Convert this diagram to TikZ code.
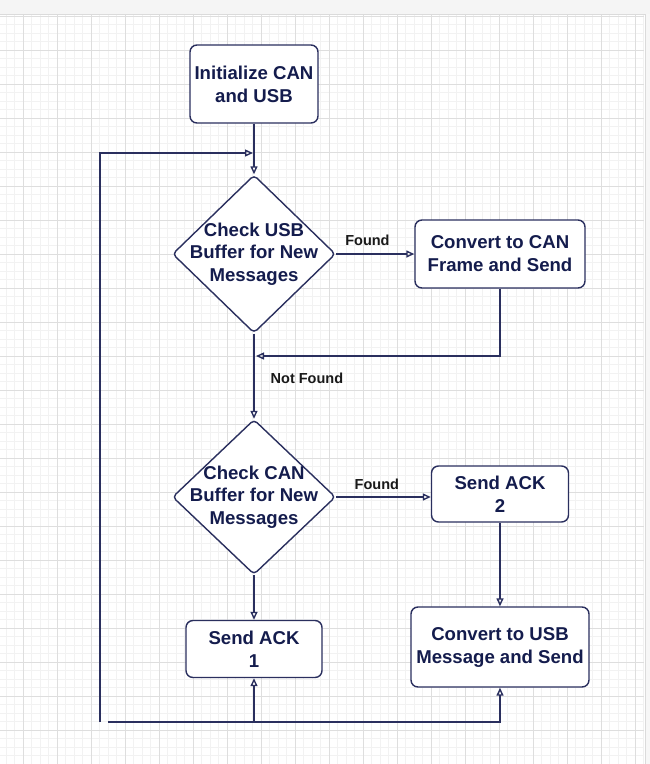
\documentclass[tikz,border=0pt]{standalone}
\usepackage{fontspec}
\setmainfont{Liberation Sans}
\usetikzlibrary{shapes.geometric,arrows.meta,positioning}
\definecolor{ink}{HTML}{2A2F5E}
\definecolor{txt}{HTML}{141C4D}
\colorlet{gridMaj}{black!13}
\colorlet{gridMin}{black!5}
\tikzstyle{box} = [draw=ink, line width=1.4pt, fill=white,
    rectangle, rounded corners=7pt, inner sep=0pt, text=txt,
    font=\fontsize{18.6}{23}\selectfont\bfseries, align=center]
\tikzstyle{dec} = [draw=ink, line width=1.4pt, fill=white,
    diamond, rounded corners=4pt, inner sep=0pt]
\tikzstyle{dtxt} = [text=txt, inner sep=0pt,
    font=\fontsize{18.6}{22.5}\selectfont\bfseries, align=center]
\tikzstyle{lbl} = [text=black!90, inner sep=0pt,
    font=\fontsize{14.5}{17}\selectfont\bfseries]
\tikzstyle{wire} = [draw=ink, line width=1.4pt]
\tikzstyle{flow} = [wire, -{Triangle[open,length=8pt,width=7pt]}]

\begin{document}
\begin{tikzpicture}[x=1pt,y=-1pt]

\useasboundingbox (0,0) rectangle (650,764);
\fill[white] (0,0) rectangle (650,764);

% grid
\foreach \i in {0,...,75}
  \draw[gridMin, line width=0.6pt] ({6+8.5*\i},15) -- ({6+8.5*\i},764);
\foreach \i in {0,...,88}
  \draw[gridMin, line width=0.6pt] (0,{16+8.5*\i}) -- (644,{16+8.5*\i});
\foreach \i in {0,...,18}
  \draw[gridMaj, line width=0.8pt] ({23+34*\i},15) -- ({23+34*\i},764);
\foreach \i in {0,...,21}
  \draw[gridMaj, line width=0.8pt] (0,{16+34*\i}) -- (644,{16+34*\i});
\fill[black!4] (0,0) rectangle (650,14);
\fill[black!3] (645,14) rectangle (650,764);
\draw[black!14, line width=1pt] (0,14.5) -- (645,14.5) -- (645,764);

% nodes
\node[box, minimum width=128pt, minimum height=78pt] (init) at (254,84)
  {Initialize CAN\\and USB};
\node[dec, minimum width=163pt, minimum height=158pt] (chkusb) at (254,254) {};
\node[dtxt] (chkusbT) at (chkusb) {Check USB\\Buffer for New\\Messages};
\node[box, minimum width=170pt, minimum height=68pt] (convcan) at (500,254)
  {Convert to CAN\\Frame and Send};
\node[dec, minimum width=163pt, minimum height=155pt] (chkcan) at (254,497) {};
\node[dtxt] (chkcanT) at (chkcan) {Check CAN\\Buffer for New\\Messages};
\node[box, minimum width=137pt, minimum height=56pt] (ack2) at (500,494)
  {Send ACK\\2};
\node[box, minimum width=136pt, minimum height=57pt] (ack1) at (254,649)
  {Send ACK\\1};
\node[box, minimum width=178pt, minimum height=80pt] (convusb) at (500,647)
  {Convert to USB\\Message and Send};

\coordinate (entry) at (253,153);
\coordinate (loopS) at (100,722);
\coordinate (backS) at (108,722);
\coordinate (merge) at (256,356);

% connectors
\draw[flow] (init) -- (chkusb);
\draw[flow] (loopS) |- (entry);
\draw[flow] (chkusb.east) -- node[lbl, pos=0.4, above=8pt] (fnd1) {Found} (convcan.west);
\draw[flow] (convcan.south) |- (merge);
\draw[flow] (chkusb.south) -- node[lbl, pos=0.52, right=16pt] (nfnd) {Not Found} (chkcan.north);
\draw[flow] (chkcan.east) -- node[lbl, pos=0.43, above=7pt] (fnd2) {Found} (chkcan.east -| ack2.west);
\draw[flow] (ack2) -- (convusb);
\draw[flow] (chkcan.south) -- (ack1.north);
\draw[flow] (backS) -| (convusb.south);
\draw[flow] (ack1.south |- backS) -- (ack1.south);

\end{tikzpicture}
\end{document}
